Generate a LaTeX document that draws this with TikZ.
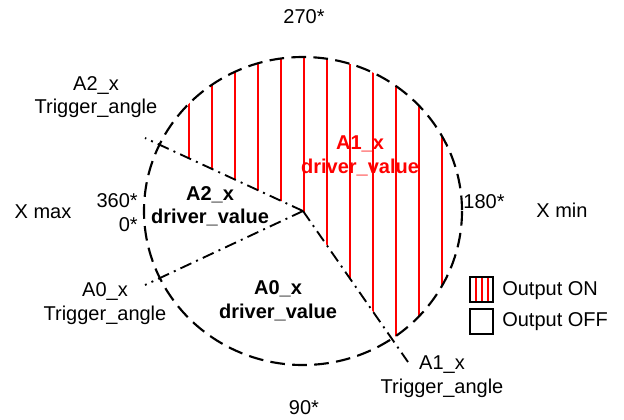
\documentclass[tikz,border=0pt]{standalone}
\usepackage{fontspec}
\setmainfont{Liberation Sans}
\begin{document}
\begin{tikzpicture}[x=0.75pt,y=-0.75pt, font=\fontsize{15}{17.6}\selectfont,
  circ/.style={line width=1.6pt, dash pattern=on 11pt off 5.5pt},
  trig/.style={line width=1.4pt, dash pattern=on 9pt off 4pt on 1.5pt off 4pt},
  hatch/.style={red, line width=1.3pt},
  lbl/.style={align=center, inner sep=0pt},
  dv/.style={align=center, inner sep=0pt, font=\fontsize{15}{17.6}\selectfont\bfseries},
  legbox/.style={draw, line width=1.1pt, minimum width=17.25pt, minimum height=18.75pt, inner sep=0pt}]
\useasboundingbox (0,0) rectangle (624,419);
\coordinate (O) at (303,211);
\coordinate (A2) at (145,138);
\coordinate (A0) at (145,285);
\coordinate (A1) at (408,362);
% hatched sector (Output ON)
\begin{scope}
  \clip (O) ellipse [x radius=159, y radius=154];
  \clip (O) -- (723,815) -- (1000,815) -- (1000,-300) -- (-171,-300) -- (-171,-8) -- cycle;
  \foreach \k in {-5,...,6} \draw[hatch] ({303.7+23*\k},0) -- ({303.7+23*\k},419);
\end{scope}
% circle
\draw[circ] (O) ellipse [x radius=159, y radius=154];
% trigger lines
\draw[trig] (O) -- (A2);
\draw[trig] (O) -- (A0);
\draw[trig] (O) -- (A1);
% labels
\node[lbl] (t270) at (304,17) {270*};
\node[lbl] (t90) at (304,408) {90*};
\node[lbl] (t180) at (484,202) {180*};
\node[lbl] (xmax) at (43,212) {X max};
\node[lbl] (xmin) at (562,210) {X min};
\node[lbl, align=right, anchor=east] (t360) at (138,212.5) {360*\\0*};
\node[lbl] (a2t) at (96,97) {A2\_x\\Trigger\_angle};
\node[lbl] (a0t) at (105,303.5) {A0\_x\\Trigger\_angle};
\node[lbl] (a1t) at (442,376.5) {A1\_x\\Trigger\_angle};
\node[dv] (a2d) at (210,206) {A2\_x\\driver\_value};
\node[dv, text=red] (a1d) at (360,156) {A1\_x\\driver\_value};
\node[dv] (a0d) at (278,300.5) {A0\_x\\driver\_value};
% legend
\draw[hatch] (476,277) -- (476,302);
\draw[hatch] (482,277) -- (482,302);
\draw[hatch] (488,277) -- (488,302);
\node[legbox] (on) at (481.5,289.5) {};
\node[legbox] (off) at (481.5,321.5) {};
\node[lbl, anchor=west] (onl) at (502,291) {Output ON};
\node[lbl, anchor=west] (offl) at (502,322) {Output OFF};
\end{tikzpicture}
\end{document}
